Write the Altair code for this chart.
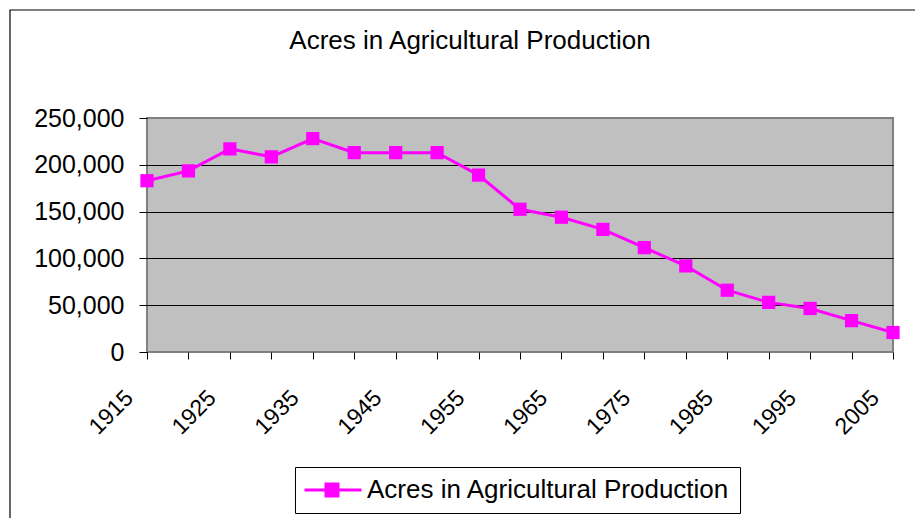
import altair as alt
import pandas as pd

# ---- data ----
years = [1915, 1920, 1925, 1930, 1935, 1940, 1945, 1950, 1955, 1960,
         1965, 1970, 1975, 1980, 1985, 1990, 1995, 2000, 2005]
acres = [183000, 193500, 217000, 208500, 228000, 213000, 213000, 213000, 189000, 152500,
         144000, 131000, 111500, 92000, 66000, 53000, 46500, 33500, 20800]
x_label_years = [1915, 1925, 1935, 1945, 1955, 1965, 1975, 1985, 1995, 2005]
y_ticks = [0, 50000, 100000, 150000, 200000, 250000]
series_name = "Acres in Agricultural Production"
title_text = "Acres in Agricultural Production"

FONT = "Liberation Sans, Arial, Helvetica, sans-serif"
MAGENTA = "#FF00FF"

df = pd.DataFrame({"year": years, "acres": acres, "series": [series_name] * len(years)})

x_enc = alt.X(
    "year:Q",
    scale=alt.Scale(domain=[years[0], years[-1]], nice=False, zero=False),
    axis=alt.Axis(
        title=None, values=years, grid=False, domain=False,
        labelExpr=f"indexof({x_label_years}, datum.value) >= 0 ? toString(datum.value) : ''",
        labelAngle=-45, labelAlign="right", labelBaseline="middle",
        labelPadding=35, labelOffset=-18, labelFlush=False, labelOverlap=False, labelBound=False,
        labelFontSize=23, labelFont=FONT, labelColor="black",
        ticks=True, tickColor="black", tickSize=7, tickWidth=1,
    ),
)
y_enc = alt.Y(
    "acres:Q",
    scale=alt.Scale(domain=[0, 250000], nice=False),
    axis=alt.Axis(
        title=None, values=y_ticks, format=",d", domain=False,
        grid=True,
        gridColor=alt.condition("datum.value <= 0 || datum.value >= 250000",
                                alt.value("transparent"), alt.value("black")),
        gridWidth=1, gridOpacity=1,
        ticks=True, tickColor="black", tickSize=8, tickWidth=1,
        labelPadding=15, labelFontSize=25, labelFont=FONT, labelColor="black",
        labelOverlap=False, labelFlush=False,
    ),
)

legend_symbol = "M-1.227,0L3.955,0M0.727,-0.545L1.818,-0.545L1.818,0.545L0.727,0.545Z"

line = alt.Chart(df).mark_line(color=MAGENTA, strokeWidth=3).encode(x=x_enc, y=y_enc)
points = alt.Chart(df).mark_point(filled=True, shape="square", size=175, opacity=1).encode(
    x=x_enc, y=y_enc,
    color=alt.Color(
        "series:N",
        scale=alt.Scale(domain=[series_name], range=[MAGENTA]),
        legend=alt.Legend(
            title=None, orient="none", legendX=148, legendY=349, direction="vertical",
            symbolType=legend_symbol, symbolSize=484, symbolStrokeColor=MAGENTA,
            symbolStrokeWidth=3, symbolFillColor=MAGENTA, symbolOpacity=1,
            labelFontSize=26, labelFont=FONT, labelColor="black", labelLimit=600,
            labelOffset=36, padding=10, strokeColor="black", fillColor="white",
            cornerRadius=0,
        ),
    ),
)

one = alt.Data(values=[{"k": 1}])
frame = alt.Chart(one).mark_rect(fillOpacity=0, stroke="black", strokeWidth=1.2).encode(
    x=alt.value(-137), x2=alt.value(790), y=alt.value(-108), y2=alt.value(420)
)
title = alt.Chart(one).mark_text(
    text=title_text, fontSize=26, font=FONT, color="black", align="center", baseline="alphabetic"
).encode(x=alt.value(323), y=alt.value(-69.5))

chart = alt.layer(frame, title, line, points).properties(
    width=746, height=234,
    autosize=alt.AutoSizeParams(type="none"),
    padding={"left": 139, "top": 110, "right": 22, "bottom": 166},
    background="white",
).configure_view(fill="#C0C0C0", stroke="#808080", strokeWidth=2)

chart.save("out.html", embed_options={"renderer": "svg", "actions": False})
